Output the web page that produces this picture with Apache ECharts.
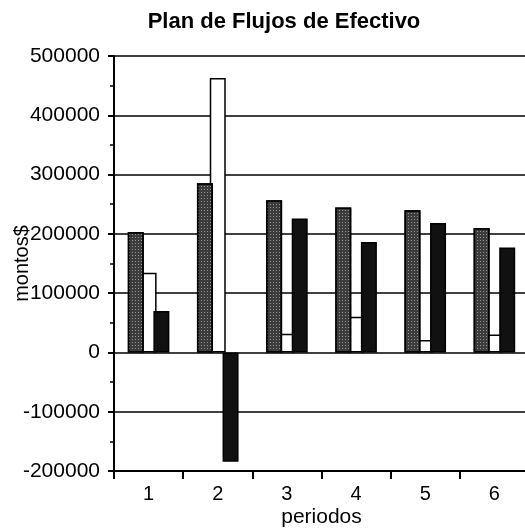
<!DOCTYPE html>
<html>
<head>
<meta charset="utf-8">
<script src="https://cdn.jsdelivr.net/npm/echarts@6/dist/echarts.min.js"></script>
<style>html,body{margin:0;padding:0;background:#fff;}#c{width:525px;height:532px;}</style>
</head>
<body>
<div id="c"></div>
<script>
var categories = ['1', '2', '3', '4', '5', '6'];
var serieGris = [203000, 285500, 256800, 244400, 239900, 210000];
var serieBlanca = [134600, 463000, 31600, 60300, 20800, 30400];
var serieOscura = [69800, -184600, 225800, 186300, 218400, 176900];
var yMin = -200000, yMax = 500000, yStep = 100000;

var FONT = '"Liberation Sans", Arial, sans-serif';
var chart = echarts.init(document.getElementById('c'), null, {renderer: 'canvas'});
chart.setOption({
  animation: false,
  backgroundColor: '#fff',
  title: {
    text: 'Plan de Flujos de Efectivo',
    left: 279, top: 6, textAlign: 'center',
    textStyle: {fontFamily: FONT, fontSize: 22, fontWeight: 'bold', color: '#000'}
  },
  grid: {left: 114, right: -4, top: 56, bottom: 61, containLabel: false, outerBoundsMode: 'none'},
  xAxis: {
    type: 'category', data: categories,
    name: 'periodos', nameLocation: 'middle', nameGap: 36, nameMoveOverlap: false,
    nameTextStyle: {fontFamily: FONT, fontSize: 21, color: '#000'},
    axisLine: {onZero: false, lineStyle: {color: '#000', width: 2}},
    axisTick: {show: true, length: 8, lineStyle: {color: '#000', width: 2}},
    axisLabel: {fontFamily: FONT, fontSize: 20, color: '#000', margin: 13},
    splitLine: {show: false}
  },
  yAxis: {
    type: 'value', min: yMin, max: yMax, interval: yStep,
    name: 'montos$', nameLocation: 'middle', nameGap: 82, nameRotate: 90, nameMoveOverlap: false,
    nameTextStyle: {fontFamily: FONT, fontSize: 20, color: '#000'},
    axisLine: {show: true, lineStyle: {color: '#000', width: 2}},
    axisTick: {show: true, length: 6, lineStyle: {color: '#000', width: 2}},
    minorTick: {show: true, splitNumber: 2, length: 4, lineStyle: {color: '#000', width: 1.5}},
    axisLabel: {fontFamily: FONT, fontSize: 21, color: '#000', margin: 14,
      formatter: function (v) { return String(v); }},
    splitLine: {show: true, lineStyle: {color: '#000', width: 1.6}}
  },
  series: [
    {
      type: 'bar', data: serieGris, barWidth: 16, barGap: '-20%', z: 3,
      itemStyle: {color: '#3c3c3c', borderColor: '#000', borderWidth: 1.5,
        decal: {symbol: 'rect', symbolSize: 1, dashArrayX: [1, 2], dashArrayY: [1, 2], color: 'rgba(255,255,255,0.45)', rotation: 0}}
    },
    {
      type: 'bar', data: serieBlanca, barWidth: 16, barGap: '-20%', z: 2,
      itemStyle: {color: '#fff', borderColor: '#000', borderWidth: 1.5}
    },
    {
      type: 'bar', data: serieOscura, barWidth: 16, barGap: '-20%', z: 3,
      itemStyle: {color: '#111', borderColor: '#000', borderWidth: 1.5}
    }
  ]
});
</script>
</body>
</html>
